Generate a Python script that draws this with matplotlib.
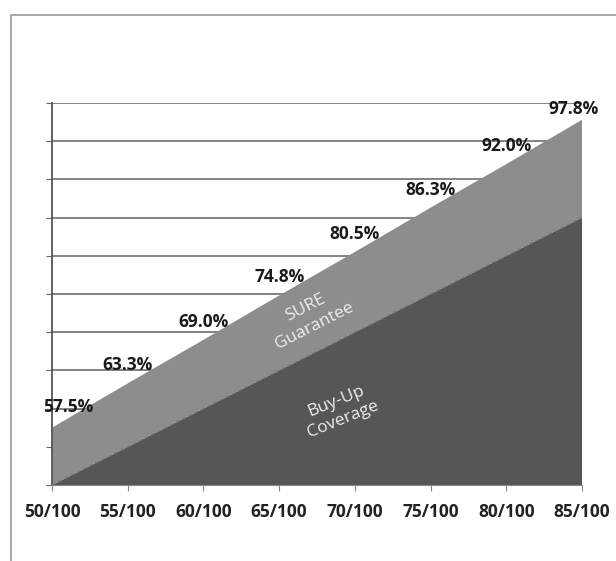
import matplotlib
matplotlib.use('Agg')
import matplotlib.pyplot as plt
from matplotlib.patches import Rectangle

# coverage level / total guarantee (percent)
categories = ["50/100", "55/100", "60/100", "65/100", "70/100", "75/100", "80/100", "85/100"]
buy_up = [50, 55, 60, 65, 70, 75, 80, 85]
total = [57.5, 63.3, 69.0, 74.8, 80.5, 86.3, 92.0, 97.8]
sure = [t - b for t, b in zip(total, buy_up)]
labels = ["57.5%", "63.3%", "69.0%", "74.8%", "80.5%", "86.3%", "92.0%", "97.8%"]

plt.rcParams['font.family'] = ['Open Sans', 'DejaVu Sans']

fig = plt.figure(figsize=(6.16, 5.61), dpi=100)
fig.patches.append(Rectangle((11 / 616, -0.1), 1.2, 1 - 15 / 561 + 0.1,
                             transform=fig.transFigure, fill=False,
                             edgecolor='#9a9a9a', linewidth=1.2))
ax = fig.add_axes([52 / 616, 1 - 485 / 561, 530 / 616, 382 / 561])

x = list(range(len(categories)))
# axis runs from 50 to 100, so stack the part above 50
ax.stackplot(x, [v - 50 for v in buy_up], sure, baseline='zero',
             colors=['#565656', '#8d8d8d'], zorder=2)
ax.set_ylim(0, 50)
ax.set_xlim(0, len(categories) - 1)

# border line between areas
ax.plot(x, [v - 50 for v in buy_up], color='#7a7a7a', linewidth=1, linestyle=(0, (3, 2)), zorder=3)

ax.set_yticks(range(0, 51, 5))
ax.set_yticklabels([])
ax.grid(axis='y', color='#7a7a7a', linewidth=1.3, zorder=1)
ax.set_axisbelow(True)
ax.set_xticks(x)
ax.set_xticklabels(categories, fontsize=12.5, fontweight='bold', color='#222222')
ax.tick_params(axis='x', length=4, color='#888888', pad=9)
ax.tick_params(axis='y', length=4, color='#666666')

for s in ['top', 'right']:
    ax.spines[s].set_visible(False)
ax.spines['left'].set_color('#555555')
ax.spines['left'].set_linewidth(1.3)
ax.spines['bottom'].set_color('#888888')

# data labels above the total
for i, (t, lab) in enumerate(zip(total, labels)):
    dx, dy = 0, 13
    if i == 0:
        dx, dy = 12, 15
    elif i == len(total) - 1:
        dx, dy = -6, 8
    ax.annotate(lab, (i, t - 50), xytext=(dx, dy), textcoords='offset points',
                ha='center', va='center', fontsize=12.5, fontweight='bold',
                color='#1a1a1a', annotation_clip=False, zorder=5)

ax.text(3.41, 22.0, "SURE\nGuarantee", rotation=27, ha='center', va='center',
        fontsize=12.5, color='#eeeeee', linespacing=1.3, zorder=5)
ax.text(3.8, 9.8, "Buy-Up\nCoverage", rotation=22, ha='center', va='center',
        fontsize=12.5, color='#eeeeee', linespacing=1.3, zorder=5)

plt.savefig('out.png', dpi=100)
